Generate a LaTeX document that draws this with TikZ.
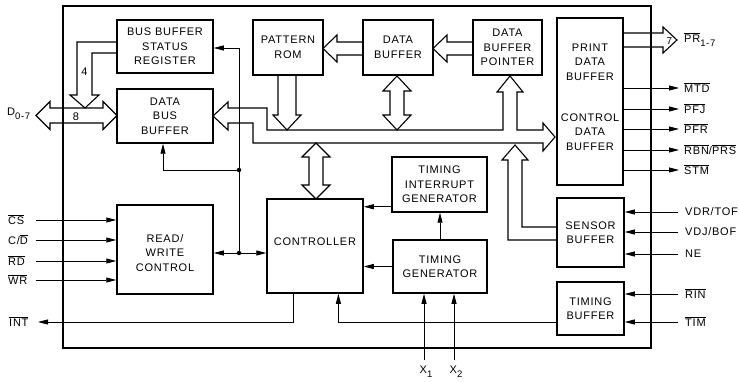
\documentclass[tikz,border=0pt]{standalone}
\usepackage{fontspec}
\setmainfont[LetterSpace=7]{Liberation Sans}
\usetikzlibrary{arrows.meta,calc}
% overlined signal name (active-low)
\newcommand\ovl[1]{\vbox{\hrule height .7pt\kern1.2pt\hbox{#1}}}
\begin{document}
\begin{tikzpicture}[x=1pt,y=-1pt,
  font=\fontsize{11}{14.5}\selectfont,
  box/.style={draw, line width=1.5pt, inner sep=0pt, align=center},
  wire/.style={line width=0.9pt},
  arr/.style={wire, -{Triangle[length=10pt,width=5pt]}},
  hollow/.style={line width=1.1pt, line join=miter},
  jdot/.style={circle, fill, inner sep=0pt, minimum size=4.5pt},
  lbl/.style={anchor=west, inner sep=0pt},
  txt/.style={inner sep=0pt, align=center}]

\useasboundingbox (0,0) rectangle (739,382);
\fill[white] (0,0) rectangle (739,382);

% chip outline
\draw[line width=1.1pt] (63,6) rectangle (651,348);

% functional blocks
\node[box, minimum width=96pt, minimum height=53pt] (bbsr) at (165,46.5) {BUS BUFFER\\STATUS\\REGISTER};
\node[box, minimum width=96pt, minimum height=54pt] (dbb) at (165,116) {DATA\\BUS\\BUFFER};
\node[box, minimum width=70pt, minimum height=55pt] (rom) at (288,47.5) {PATTERN\\ROM};
\node[box, minimum width=70pt, minimum height=55pt] (dbuf) at (398,47.5) {DATA\\BUFFER};
\node[box, minimum width=69pt, minimum height=55pt] (ptr) at (507.5,47.5) {DATA\\BUFFER\\POINTER};
\node[box, minimum width=66pt, minimum height=167pt] (pdb) at (590,101.5) {};
\node[txt] (pdbt) at (590,62) {PRINT\\DATA\\BUFFER};
\node[txt] (cdbt) at (590,132) {CONTROL\\DATA\\BUFFER};
\node[box, minimum width=67pt, minimum height=69pt] (sens) at (590.5,232.5) {SENSOR\\BUFFER};
\node[box, minimum width=67pt, minimum height=53pt] (tbuf) at (590.5,308.5) {TIMING\\BUFFER};
\node[box, minimum width=96pt, minimum height=89pt] (rw) at (165,249.5) {};
\node[txt] (rwt) at (165,253) {READ/\\WRITE\\CONTROL};
\node[box, minimum width=96pt, minimum height=94pt] (ctrl) at (315,246) {};
\node[txt] (ctrlt) at (315,242) {CONTROLLER};
\node[box, minimum width=95pt, minimum height=55pt] (tig) at (439.5,184.5) {TIMING\\INTERRUPT\\GENERATOR};
\node[box, minimum width=94pt, minimum height=53pt] (tg) at (440,266.5) {TIMING\\GENERATOR};

% wide (hollow) bus arrows
% D0-7 <-> data bus buffer
\draw[hollow] (36,115.5) -- (50,101.5) -- (50,108) -- (103,108) -- (103,101.5) -- (117,115.5)
  -- (103,129.5) -- (103,123) -- (50,123) -- (50,129.5) -- cycle;
% status register -> data bus (4 bits)
\draw[hollow] (117,42) -- (77,42) -- (77,95) -- (70,95) -- (85,108) -- (99,95) -- (92,95) -- (92,53) -- (117,53);
\node[inner sep=0pt] (n4) at (84.5,71.5) {4};
\node[inner sep=0pt] (n8) at (76,116.5) {8};
% internal bus: data bus buffer <-> control data buffer, with pointer tap
\draw[hollow] (503,92) -- (503,130) -- (267,130) -- (267,108) -- (228,108) -- (228,102) -- (213,116)
  -- (228,130) -- (228,123) -- (253,123) -- (253,143) -- (543,143) -- (543,151) -- (555,137)
  -- (543,123) -- (543,130) -- (517,130) -- (517,92) -- (523,92) -- (510,76) -- (497,92) -- cycle;
% pattern ROM -> bus
\draw[hollow] (278,75) -- (278,115) -- (273,115) -- (287,130) -- (301,115) -- (296,115) -- (296,75);
% data buffer <-> bus
\draw[hollow] (397,76) -- (411,91) -- (404,91) -- (404,115) -- (411,115) -- (397,130) -- (383,115)
  -- (390,115) -- (390,91) -- (383,91) -- cycle;
% bus <-> controller
\draw[hollow] (316,143) -- (330,157) -- (323,157) -- (323,185) -- (330,185) -- (316,199) -- (302,185)
  -- (309,185) -- (309,157) -- (302,157) -- cycle;
% sensor buffer -> bus
\draw[hollow] (557,240) -- (508,240) -- (508,160) -- (502,160) -- (515,145) -- (528,160) -- (522,160)
  -- (522,227) -- (557,227);
% data buffer -> pattern ROM
\draw[hollow] (363,42) -- (337,42) -- (337,35) -- (323,48.5) -- (337,62) -- (337,55) -- (363,55);
% pointer -> data buffer
\draw[hollow] (473,42) -- (447,42) -- (447,35) -- (433,48.5) -- (447,62) -- (447,55) -- (473,55);
% print data out
\draw[hollow] (623,33) -- (663,33) -- (663,27) -- (677,40) -- (663,53) -- (663,47) -- (623,47);
\node[inner sep=0pt, font=\fontsize{10}{10}\selectfont] (n7) at (669.5,41) {7};

% internal control wires
\coordinate (jt) at (239,48);
\coordinate (j1) at (239,170);
\coordinate (j2) at (239,253);
\draw[wire] (jt) -- (j2);
\draw[arr] (jt) -- (jt -| bbsr.east);
\draw[arr] (j1) -| ([xshift=-2pt]dbb.south);
\draw[arr] (j2) -- (j2 -| rw.east);
\draw[arr] (j2) -- (j2 -| ctrl.west);
\node[jdot] (d1) at (j1) {};
\node[jdot] (d2) at (j2) {};

\coordinate (ci) at ($(ctrl.south west)!0.28!(ctrl.south east)$);
\coordinate (ct) at ($(ctrl.south west)!0.74!(ctrl.south east)$);
\coordinate (int) at (38,322);
\draw[arr] (ci) |- (int);
\draw[arr] (tbuf.west |- int) -| (ct);
\coordinate (a1) at ([yshift=6pt]tig.south west);
\draw[arr] (a1) -- (a1 -| ctrl.east);
\draw[arr] (tg.west) -- (tg.west -| ctrl.east);
\draw[arr] (tg.north) -- (tg.north |- tig.south);

% clock inputs
\coordinate (x1) at (424,360);
\coordinate (x2) at (454,360);
\draw[arr] (x1) -- (x1 |- tg.south);
\draw[arr] (x2) -- (x2 |- tg.south);
\node[inner sep=0pt] (lx1) at (426,372) {X\raisebox{-4pt}{\fontsize{9.5}{9.5}\selectfont 1}};
\node[inner sep=0pt] (lx2) at (456,372) {X\raisebox{-4pt}{\fontsize{9.5}{9.5}\selectfont 2}};

% host interface
\coordinate (cs) at (36,220);
\coordinate (cd) at (36,240);
\coordinate (rd) at (36,261);
\coordinate (wr) at (36,280);
\foreach \p in {cs,cd,rd,wr} \draw[arr] (\p) -- (\p -| rw.west);
\node[lbl] (lcs) at (8,220) {\ovl{CS}};
\node[lbl] (lcd) at (8,240) {C/\ovl{D}};
\node[lbl] (lrd) at (8,261) {\ovl{RD}};
\node[lbl] (lwr) at (8,280) {\ovl{WR}};
\node[lbl] (lint) at (9,322) {\ovl{INT}};
\node[lbl] (ld) at (7,114) {D\raisebox{-3.5pt}{\fontsize{9.5}{9.5}\selectfont 0-7}};

% printer outputs
\coordinate (mtd) at (679,88);
\coordinate (pfj) at (679,109);
\coordinate (pfr) at (679,129);
\coordinate (rbn) at (679,150);
\coordinate (stm) at (679,170);
\foreach \p in {mtd,pfj,pfr,rbn,stm} \draw[arr] (\p -| pdb.east) -- (\p);
\node[lbl] (lpr) at (684,40) {\ovl{PR}\raisebox{-4pt}{\fontsize{9.5}{9.5}\selectfont 1-7}};
\node[lbl] (lmtd) at (684,88) {\ovl{MTD}};
\node[lbl] (lpfj) at (684,109) {\ovl{PFJ}};
\node[lbl] (lpfr) at (684,129) {\ovl{PFR}};
\node[lbl] (lrbn) at (684,150) {\ovl{RBN}/\ovl{PRS}};
\node[lbl] (lstm) at (684,170) {\ovl{STM}};

% printer inputs
\coordinate (vdr) at (678,212);
\coordinate (vdj) at (678,232);
\coordinate (ne) at (678,254);
\coordinate (rin) at (678,294);
\coordinate (tim) at (678,322);
\foreach \p in {vdr,vdj,ne} \draw[arr] (\p) -- (\p -| sens.east);
\foreach \p in {rin,tim} \draw[arr] (\p) -- (\p -| tbuf.east);
\node[lbl] (lvdr) at (685,212) {VDR/TOF};
\node[lbl] (lvdj) at (685,232) {VDJ/BOF};
\node[lbl] (lne) at (685,254) {NE};
\node[lbl] (lrin) at (685,294) {\ovl{RIN}};
\node[lbl] (ltim) at (685,322) {\ovl{TIM}};
\end{tikzpicture}
\end{document}
